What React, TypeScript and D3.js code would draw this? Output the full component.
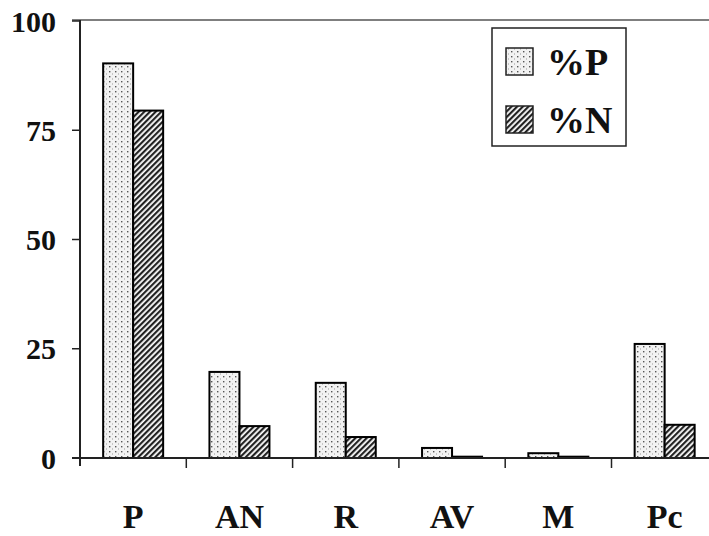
import React from "react";
import * as d3 from "d3";

const categories = ["P", "AN", "R", "AV", "M", "Pc"];
const seriesNames = ["%P", "%N"];
const pctP = [90.3, 19.7, 17.2, 2.3, 1.1, 26.1];
const pctN = [79.5, 7.3, 4.8, 0.3, 0.3, 7.6];
const yTicks = [0, 25, 50, 75, 100];

const W = 709;
const H = 536;
const left = 80;
const bandW = 106.3;
const y0 = 458;
const yTop = 21;

export default function App() {
  const x = d3
    .scaleBand<string>()
    .domain(categories)
    .range([left, left + bandW * categories.length])
    .paddingInner(0)
    .paddingOuter(0);
  const inner = d3.scaleBand<string>().domain(seriesNames).range([0, 60]);
  const y = d3.scaleLinear().domain([0, 100]).range([y0, yTop]);
  const series = [pctP, pctN];
  const fills = ["url(#dots)", "url(#hatch)"];
  const textStyle: React.CSSProperties = {
    fontFamily: '"Liberation Serif", "DejaVu Serif", serif',
    fontWeight: 700,
  };

  return (
    <svg width={W} height={H} style={{ position: "absolute", left: 0, top: 0, background: "#fff" }}>
      <defs>
        <pattern id="dots" width="6" height="5" patternUnits="userSpaceOnUse">
          <rect width="6" height="5" fill="#f2f2f2" />
          <rect x="1" y="1" width="1.4" height="1.4" fill="#555" />
          <rect x="4" y="3.5" width="1" height="1" fill="#999" />
        </pattern>
        <pattern id="hatch" width="4" height="4" patternUnits="userSpaceOnUse" patternTransform="rotate(45)">
          <rect width="4" height="4" fill="#fff" />
          <rect x="0" y="0" width="2.2" height="4" fill="#222" />
        </pattern>
      </defs>
      <line x1={72} x2={W} y1={20} y2={20} stroke="#555" strokeWidth={1.5} />
      {categories.map((c, i) => (
        <g key={c}>
          {series.map((s, j) => {
            const bx = (x(c) as number) + bandW / 2 - 30 + (inner(seriesNames[j]) as number);
            return (
              <rect
                key={j}
                x={bx}
                y={y(s[i])}
                width={inner.bandwidth()}
                height={y0 - y(s[i])}
                fill={fills[j]}
                stroke="#000"
                strokeWidth={2}
              />
            );
          })}
        </g>
      ))}
      <line x1={left} x2={left} y1={20} y2={466} stroke="#222" strokeWidth={2} />
      {yTicks.map((t) => (
        <g key={t}>
          <line x1={72} x2={left} y1={y(t)} y2={y(t)} stroke="#222" strokeWidth={1.5} />
          <text x={56} y={y(t)} dy="0.35em" textAnchor="end" fontSize={30} fill="#111" style={textStyle}>
            {t}
          </text>
        </g>
      ))}
      <line x1={72} x2={W} y1={y0} y2={y0} stroke="#222" strokeWidth={2} />
      {categories.map((c, i) => (
        <g key={c}>
          {i > 0 && (
            <line
              x1={x(c) as number}
              x2={x(c) as number}
              y1={y0}
              y2={y0 + 10}
              stroke="#222"
              strokeWidth={1.5}
            />
          )}
          <text
            x={(x(c) as number) + bandW / 2}
            y={528}
            textAnchor="middle"
            fontSize={34}
            fill="#111"
            style={textStyle}
          >
            {c}
          </text>
        </g>
      ))}
      <rect x={492} y={28} width={134} height={118} fill="#fff" stroke="#222" strokeWidth={1.5} />
      {seriesNames.map((s, j) => (
        <g key={s}>
          <rect x={506} y={48 + j * 58} width={27} height={27} fill={fills[j]} stroke="#222" strokeWidth={1.5} />
          <text x={547} y={75 + j * 58} fontSize={38} fill="#111" style={textStyle}>
            {s}
          </text>
        </g>
      ))}
    </svg>
  );
}
